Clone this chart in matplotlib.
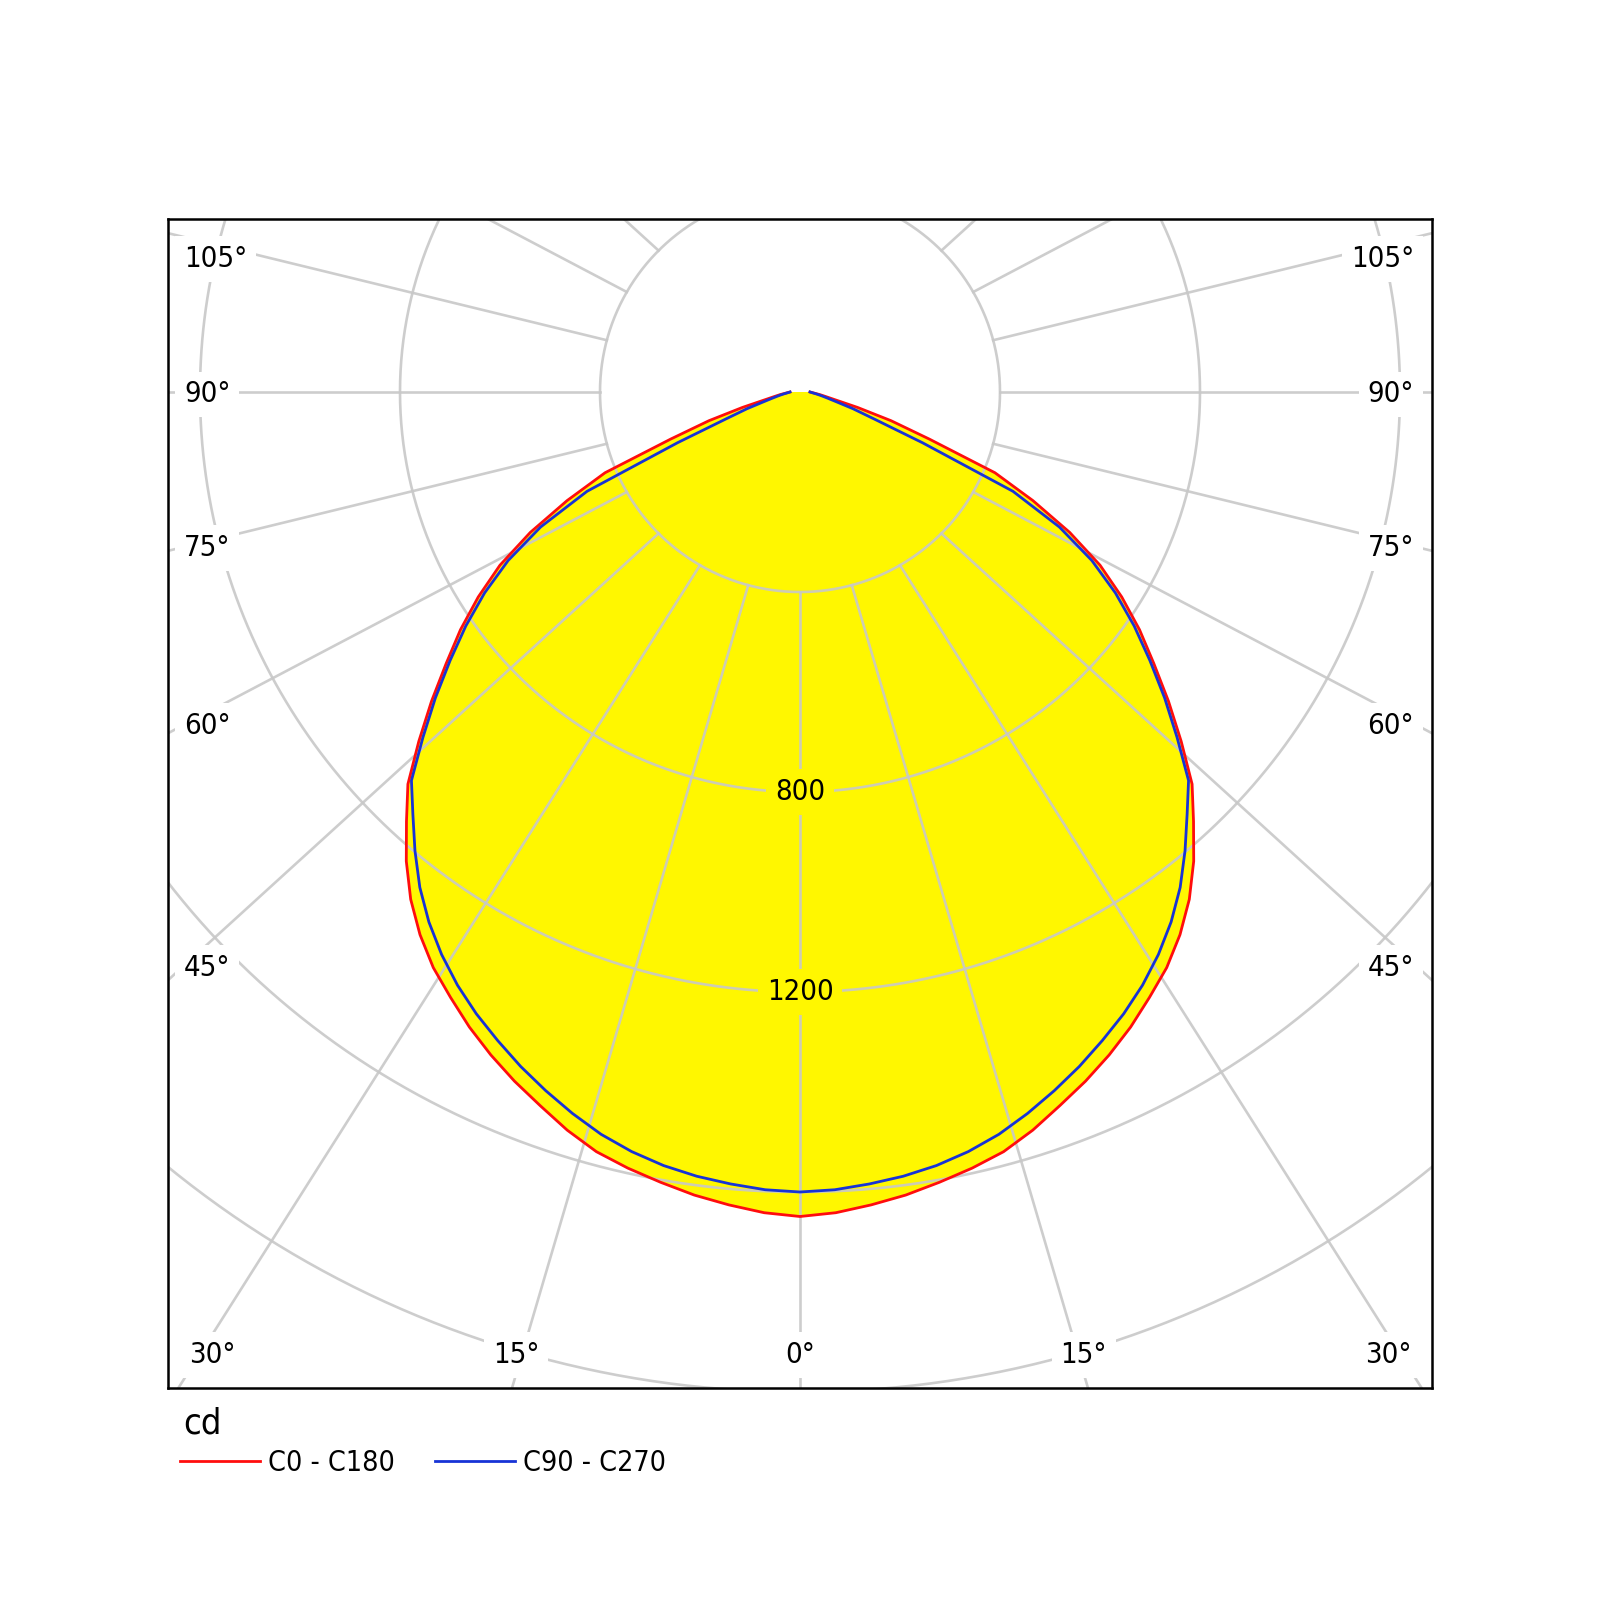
import numpy as np
import matplotlib
matplotlib.use("Agg")
import matplotlib.pyplot as plt
from matplotlib import font_manager

# luminous intensity in cd over the gamma angle (both halves are symmetric)
gamma = [0, 2.5, 5, 7.5, 10, 12.5, 15, 17.5, 20, 22.5, 25, 27.5, 30, 32.5, 35, 37.5,
         40, 42.5, 45, 47.5, 50, 52.5, 55, 57.5, 60, 62.5, 65, 67.5, 70, 72.5, 75,
         77.5, 80, 82.5, 85, 87.5, 90]
c0_c180 = [1649, 1643, 1632, 1620, 1605, 1590, 1573, 1548, 1519, 1492, 1463, 1432,
           1398, 1365, 1325, 1279, 1225, 1165, 1109, 1034, 962, 892, 829, 763, 693,
           608, 514, 422, 275, 191, 119, 72, 52, 40, 30, 24, 20]
c90_c270 = [1600, 1597, 1590, 1582, 1571, 1556, 1537, 1513, 1487, 1460, 1431, 1402,
            1370, 1334, 1294, 1249, 1198, 1146, 1099, 1023, 952, 882, 816, 748, 674,
            585, 470, 265, 158, 111, 75, 56, 44, 35, 28, 23, 20]

rings = [400, 800, 1200, 1600, 2000, 2400]
ring_labels = [800, 1200]
side_labels = [105, 90, 75, 60, 45]
bottom_labels = [30, 15, 0]

RED = "#ff0d0d"
BLUE = "#1733d6"
YELLOW = "#fff700"
GRID = "#c8c8c8"

# pick a narrow humanist face if one exists
fam, stretch = "DejaVu Sans", "condensed"
p = font_manager.findfont(font_manager.FontProperties(family=fam, stretch=stretch))
if "Condensed" not in p:
    try:
        font_manager.findfont(font_manager.FontProperties(family="Liberation Sans Narrow"),
                              fallback_to_default=False)
        fam, stretch = "Liberation Sans Narrow", "normal"
    except Exception:
        fam, stretch = "DejaVu Sans", "normal"
plt.rcParams["font.family"] = [fam, "DejaVu Sans"]
plt.rcParams["font.stretch"] = stretch

fig = plt.figure(figsize=(16, 16), dpi=100)
ax = fig.add_axes([168 / 1600, 1 - 1387.5 / 1600, 1264 / 1600, 1168.5 / 1600])
xmin, xmax, ymin, ymax = -1264, 1264, -1991, 346
ax.set_xlim(xmin, xmax)
ax.set_ylim(ymin, ymax)
ax.set_xticks([])
ax.set_yticks([])
for s in ax.spines.values():
    s.set_linewidth(1.8)
    s.set_color("black")
    s.set_zorder(10)


def outline(values):
    g = np.radians(gamma)
    v = np.asarray(values, float)
    xr, yr = v * np.sin(g), -v * np.cos(g)
    x = np.concatenate([-xr[::-1], xr[1:]])
    y = np.concatenate([yr[::-1], yr[1:]])
    return x, y


xa, ya = outline(c0_c180)
xb, yb = outline(c90_c270)
ax.fill(xa, ya, color=YELLOW, lw=0, zorder=1)
ax.fill(xb, yb, color=YELLOW, lw=0, zorder=1)

# rings
t = np.linspace(0, 2 * np.pi, 721)
for r in rings:
    ax.plot(r * np.sin(t), r * np.cos(t), color=GRID, lw=1.9, alpha=0.9, zorder=2)

# spokes every 15 deg, outer ends stretched to the frame's aspect
k = (xmax - xmin) / (ymax - ymin)
for a in range(0, 360, 15):
    g = np.radians(a)
    x1, y1 = rings[0] * np.sin(g), -rings[0] * np.cos(g)
    x2, y2 = rings[-1] * k * np.sin(g), -rings[-1] * np.cos(g)
    ax.plot([x1, x2], [y1, y2], color=GRID, lw=1.9, alpha=0.9, zorder=2)

ax.plot(xa, ya, color=RED, lw=2.0, zorder=4, label="C0 - C180")
ax.plot(xb, yb, color=BLUE, lw=2.0, zorder=4, label="C90 - C270")

fs = 21
white_box = dict(boxstyle="square,pad=0.3", fc="white", ec="none")
for v in ring_labels:
    ax.text(0, -v, str(v), ha="center", va="center", fontsize=fs, zorder=5,
            bbox=dict(boxstyle="square,pad=0.3", fc=YELLOW, ec="none"))

for a in side_labels:
    g = np.radians(a)
    y = -1187 * np.cos(g) / (1.035 * np.sin(g)) - 5
    y = min(y, 266)
    ax.text(-1232, y, f"{a}°", ha="left", va="center", fontsize=fs, zorder=5, bbox=white_box)
    ax.text(1228, y, f"{a}°", ha="right", va="center", fontsize=fs, zorder=5, bbox=white_box)

for a in bottom_labels:
    x = min(1926 * 1.10 * np.tan(np.radians(a)), 1176)
    for sgn in ((-1, 1) if a else (1,)):
        ax.text(sgn * x, -1926, f"{a}°", ha="center", va="center", fontsize=fs,
                zorder=5, bbox=white_box)

fig.text(183 / 1600, 1 - 1424 / 1600, "cd", ha="left", va="center", fontsize=26)
ax.legend(loc="center left", bbox_to_anchor=(180 / 1600, 1 - 1463 / 1600),
          bbox_transform=fig.transFigure, ncol=2, frameon=False, fontsize=20.5,
          borderpad=0, borderaxespad=0, handlelength=2.8, handletextpad=0.3,
          columnspacing=1.4)

fig.savefig("out.png", dpi=100, facecolor="white")
